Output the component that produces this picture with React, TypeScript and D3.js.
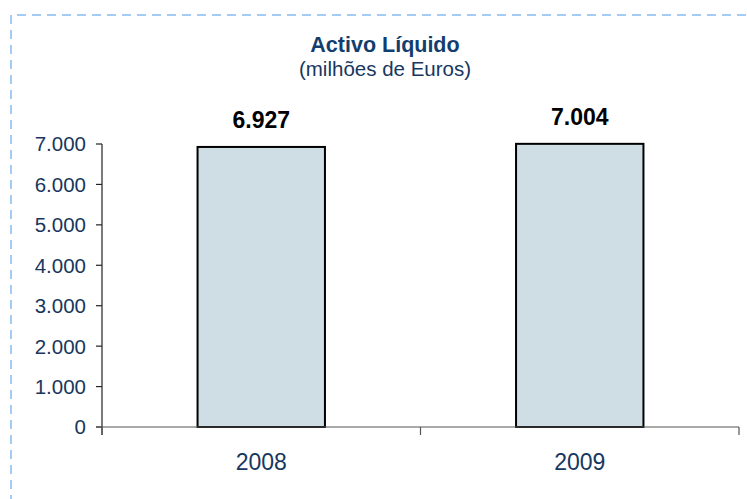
import React from 'react';
import * as d3 from 'd3';

// chart data
const categories = ['2008', '2009'];
const values = [6927, 7004];
const yTicks = [0, 1000, 2000, 3000, 4000, 5000, 6000, 7000];
const title = 'Activo Líquido';
const subtitle = '(milhões de Euros)';

const W = 747;
const H = 499;
const FONT = '"Liberation Sans", Arial, sans-serif';
const TEXT_BLUE = '#17375E';

const ptFormat = d3.formatLocale({
  decimal: ',',
  thousands: '.',
  grouping: [3],
  currency: ['', ' €'],
}).format(',d');

export default function App() {
  // plot area
  const left = 102;
  const right = 739;
  const top = 144;
  const bottom = 427;

  const x = d3.scaleBand<string>().domain(categories).range([left, right]).padding(0);
  const y = d3.scaleLinear().domain([0, 7000]).range([bottom, top]);
  const barW = x.bandwidth() * 0.4;

  // boundaries between category slots, for the x-axis ticks
  const xTicks = [left, ...categories.map((c) => (x(c) ?? 0) + x.bandwidth())];

  return (
    <svg
      width={W}
      height={H}
      style={{ position: 'absolute', left: 0, top: 0, background: '#fff', fontFamily: FONT }}
    >
      {/* dashed frame */}
      <path
        d={`M11,${H + 5} L11,15 L${W + 5},15`}
        fill="none"
        stroke="#A3CBF3"
        strokeWidth={2}
        strokeDasharray="9,6"
      />

      {/* titles */}
      <text x={385} y={52} textAnchor="middle" fontSize={21.5} fontWeight="bold" fill="#123E6E">
        {title}
      </text>
      <text x={385} y={76} textAnchor="middle" fontSize={20.5} fill={TEXT_BLUE}>
        {subtitle}
      </text>

      {/* bars */}
      {categories.map((c, i) => {
        const cx = (x(c) ?? 0) + x.bandwidth() / 2;
        return (
          <g key={c}>
            <rect
              x={cx - barW / 2}
              y={y(values[i])}
              width={barW}
              height={y(0) - y(values[i])}
              fill="#CFDDE4"
              stroke="#000"
              strokeWidth={2}
            />
            <text
              x={cx}
              y={y(values[i]) - 19}
              textAnchor="middle"
              fontSize={23}
              fontWeight="bold"
              fill="#000"
            >
              {ptFormat(values[i])}
            </text>
            <text x={cx} y={470} textAnchor="middle" fontSize={23} fill={TEXT_BLUE}>
              {c}
            </text>
          </g>
        );
      })}

      {/* y axis */}
      <line x1={left} x2={left} y1={top} y2={bottom + 8} stroke="#222" strokeWidth={1.2} />
      {yTicks.map((t) => (
        <g key={t}>
          <line x1={left - 6} x2={left} y1={y(t)} y2={y(t)} stroke="#222" strokeWidth={1.2} />
          <text
            x={left - 16}
            y={y(t)}
            dy="0.36em"
            textAnchor="end"
            fontSize={20.5}
            fill={TEXT_BLUE}
          >
            {ptFormat(t)}
          </text>
        </g>
      ))}

      {/* x axis */}
      <line x1={left - 6} x2={right} y1={bottom} y2={bottom} stroke="#555" strokeWidth={1.2} />
      {xTicks.map((t, i) => (
        <line key={i} x1={t} x2={t} y1={bottom} y2={bottom + 8} stroke="#555" strokeWidth={1.2} />
      ))}
    </svg>
  );
}
